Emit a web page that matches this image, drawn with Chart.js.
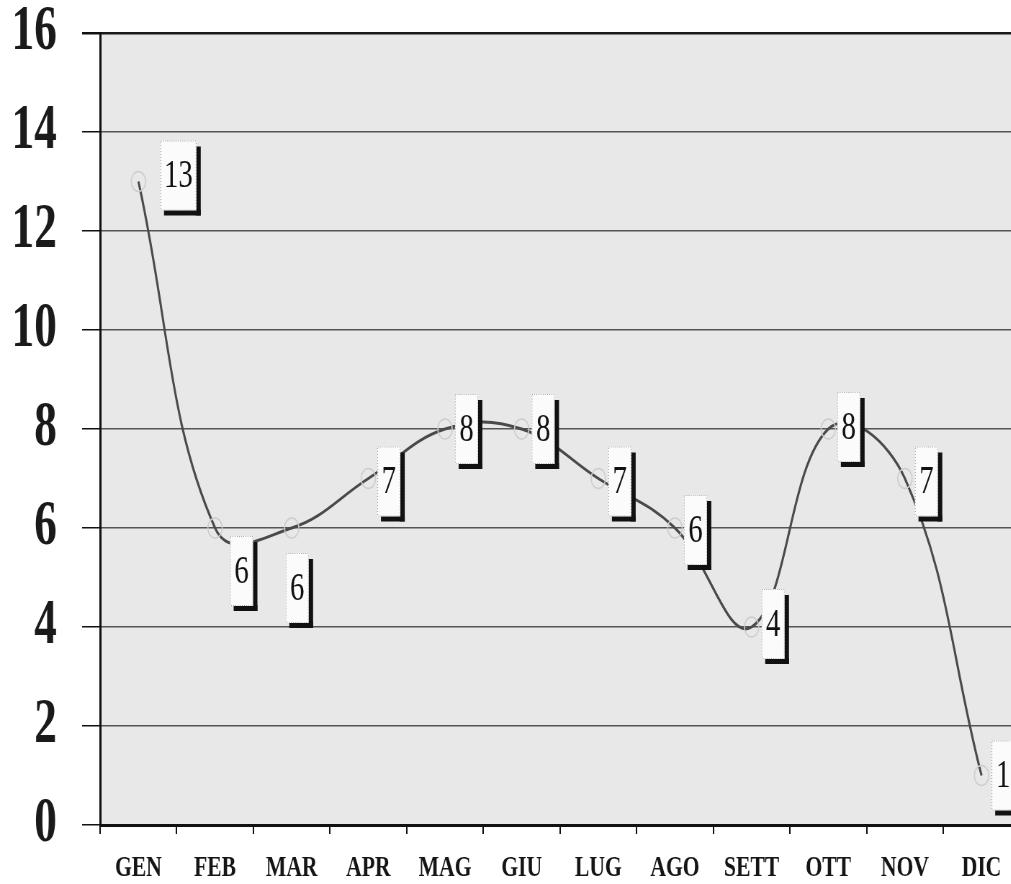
<!DOCTYPE html>
<html>
<head>
<meta charset="utf-8">
<script src="https://cdn.jsdelivr.net/npm/chart.js@4/dist/chart.umd.min.js"></script>
<style>
  html, body { margin: 0; padding: 0; background: #ffffff; overflow: hidden; }
  #wrap { width: 1011px; height: 884px; overflow: hidden; }
  /* the original type is narrow, so the whole chart is drawn wide and squeezed */
  #lineChart { transform: scaleX(0.72); transform-origin: 0 0; }
</style>
</head>
<body>
<div id="wrap"><canvas id="lineChart" width="1428" height="884"></canvas></div>
<script>
const mesi = ['GEN', 'FEB', 'MAR', 'APR', 'MAG', 'GIU', 'LUG', 'AGO', 'SETT', 'OTT', 'NOV', 'DIC'];
const valori = [13, 6, 6, 7, 8, 8, 7, 6, 4, 8, 7, 1];
const yTicks = [0, 2, 4, 6, 8, 10, 12, 14, 16];

const K = 0.72;
// box left offset from point, box vertical centre offset from point (screen px)
const labelShift = [[22, -6], [15, 43], [-6, 60], [9, 3], [10, 0], [10, 0], [10, 3], [9, 2], [10, -3], [9, -2], [10, 3], [10, 0]];

const areaBg = {
    id: 'areaBg',
    beforeDraw(chart) {
        const { ctx, chartArea: a } = chart;
        ctx.save();
        ctx.fillStyle = '#e8e8e8';
        ctx.fillRect(a.left, a.top, a.right - a.left, a.bottom - a.top);
        ctx.restore();
    }
};

const boxLabels = {
    id: 'boxLabels',
    afterDatasetsDraw(chart) {
        const ctx = chart.ctx;
        const meta = chart.getDatasetMeta(0);
        ctx.save();
        ctx.font = '40px "Liberation Serif"';
        ctx.textAlign = 'center';
        ctx.textBaseline = 'middle';
        meta.data.forEach((pt, i) => {
            const txt = String(valori[i]);
            const w = txt.length > 1 ? 50 : 32;
            const h = 70;
            const x = pt.x + labelShift[i][0] / K;
            const y = pt.y + labelShift[i][1] - h / 2;
            ctx.fillStyle = '#111';
            ctx.fillRect(x + w - 1, y + 6, 7, h - 1);
            ctx.fillRect(x + 5, y + h - 1, w + 1, 6);
            ctx.fillStyle = '#fbfbfb';
            ctx.fillRect(x, y, w, h);
            ctx.strokeStyle = '#999';
            ctx.lineWidth = 1;
            ctx.setLineDash([1, 2]);
            ctx.strokeRect(x + 0.5, y + 0.5, w - 1, h - 1);
            ctx.setLineDash([]);
            ctx.fillStyle = '#111';
            ctx.fillText(txt, x + w / 2, y + h / 2 + 1);
        });
        ctx.restore();
    }
};

const ctx = document.getElementById('lineChart').getContext('2d');
new Chart(ctx, {
    type: 'line',
    data: {
        labels: mesi,
        datasets: [{
            data: valori,
            borderColor: '#4a4a4a',
            borderWidth: 3,
            tension: 0.4,
            pointRadius: 10,
            pointBorderWidth: 1.5,
            pointBorderColor: '#cdcdcd',
            pointBackgroundColor: 'rgba(0,0,0,0)'
        }]
    },
    options: {
        responsive: false,
        animation: false,
        layout: { padding: { top: 0, right: 6, left: 0, bottom: 0 } },
        plugins: { legend: { display: false }, tooltip: { enabled: false } },
        scales: {
            x: {
                offset: true,
                grid: { offset: true, drawOnChartArea: false, drawTicks: true, tickLength: 9, color: '#111', lineWidth: 2 },
                border: { color: '#111', width: 3 },
                ticks: {
                    padding: 16,
                    color: '#151515',
                    font: { family: '"Liberation Serif"', weight: 'bold', size: 30 }
                },
                afterFit(scale) { scale.height = 59; }
            },
            y: {
                min: 0,
                max: 16,
                afterBuildTicks(scale) { scale.ticks = yTicks.map(v => ({ value: v })); },
                grid: {
                    color: c => (c.tick && c.tick.value === 16 ? '#1a1a1a' : '#555'),
                    lineWidth: c => (c.tick && c.tick.value === 16 ? 2.5 : 1.5),
                    tickLength: 25,
                    tickColor: '#111'
                },
                border: { color: '#111', width: 3 },
                ticks: {
                    padding: 35,
                    color: '#1a1a1a',
                    font: { family: '"Liberation Serif"', weight: 'bold', size: 63 }
                },
                afterFit(scale) {
                    scale.width = 139;
                    scale.paddingTop = 33;
                    scale.paddingBottom = 0;
                }
            }
        }
    },
    plugins: [areaBg, boxLabels]
});
</script>
</body>
</html>
